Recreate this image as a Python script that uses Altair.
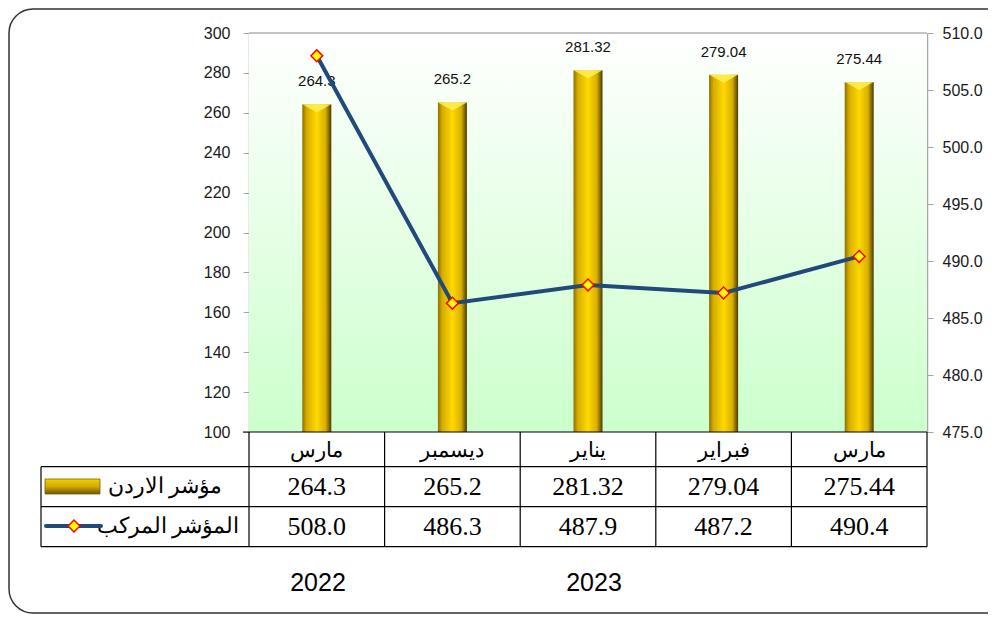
import altair as alt
import pandas as pd

# ---- data ----
months = ["مارس", "ديسمبر", "يناير", "فبراير", "مارس"]
jordan = [264.3, 265.2, 281.32, 279.04, 275.44]
jordan_text = ["264.3", "265.2", "281.32", "279.04", "275.44"]
composite = [508.0, 486.3, 487.9, 487.2, 490.4]
composite_text = ["508.0", "486.3", "487.9", "487.2", "490.4"]
row_labels = ["مؤشر الاردن", "المؤشر المركب"]
years = ["2022", "2023"]
left_ticks = list(range(100, 301, 20))
right_ticks = [475, 480, 485, 490, 495, 500, 505, 510]

df = pd.DataFrame({
    "i": list(range(len(months))),
    "month": months,
    "jordan": jordan,
    "jordan_text": jordan_text,
    "composite": composite,
    "composite_text": composite_text,
})
one = pd.DataFrame({"k": [0]})

W, H = 678, 399
LINE_COLOR = "#21497a"
SERIF = "Times New Roman"
SANS = "Liberation Sans"

xband = alt.Scale(type="band", paddingInner=0, paddingOuter=0)
X = alt.X("i:O", scale=xband, axis=None)
yl_scale = alt.Scale(domain=[100, 300], nice=False, zero=False)
yr_scale = alt.Scale(domain=[475, 510], nice=False, zero=False)

gold = alt.LinearGradient(
    gradient="linear", x1=0, y1=0, x2=1, y2=0,
    stops=[
        alt.GradientStop(offset=0, color="#8c7000"),
        alt.GradientStop(offset=0.15, color="#d6ad00"),
        alt.GradientStop(offset=0.5, color="#ffd900"),
        alt.GradientStop(offset=0.8, color="#d9b000"),
        alt.GradientStop(offset=1, color="#4a3a00"),
    ],
)
gold_h = alt.LinearGradient(
    gradient="linear", x1=0, y1=0, x2=0, y2=1,
    stops=[
        alt.GradientStop(offset=0, color="#f0d000"),
        alt.GradientStop(offset=0.5, color="#d4aa00"),
        alt.GradientStop(offset=1, color="#6b5600"),
    ],
)
bg_grad = alt.LinearGradient(
    gradient="linear", x1=0, y1=0, x2=0, y2=1,
    stops=[
        alt.GradientStop(offset=0, color="#ffffff"),
        alt.GradientStop(offset=1, color="#ccffcc"),
    ],
)

base = alt.Chart(df)
single = alt.Chart(one)

frame = single.mark_rect(filled=False, stroke="#333333", strokeWidth=1.5, cornerRadius=24).encode(
    x=alt.value(-240), x2=alt.value(775), y=alt.value(-24), y2=alt.value(580)
)
bg = single.mark_rect(color=bg_grad).encode(
    x=alt.value(0), x2=alt.value(W), y=alt.value(0), y2=alt.value(H)
)
top_border = single.mark_rule(color="#b0b0b0", strokeWidth=1.5).encode(
    x=alt.value(0), x2=alt.value(W), y=alt.value(0)
)

bars = base.mark_bar(size=29, color=gold).encode(
    x=X,
    y=alt.Y("jordan:Q", scale=yl_scale, title=None,
            axis=alt.Axis(orient="left", values=left_ticks, labelPadding=13)),
    y2=alt.datum(100),
)
caps = base.mark_point(shape="M-1,0L1,0L0,0.55Z", filled=True, fill="#ffee55", opacity=0.85,
                       size=841, strokeWidth=0).encode(
    x=X,
    y=alt.Y("jordan:Q", scale=yl_scale, axis=None),
)
bar_labels = base.mark_text(dy=-23, fontSize=15, font=SANS, color="#111111").encode(
    x=X,
    y=alt.Y("jordan:Q", scale=yl_scale, axis=None),
    text="jordan_text:N",
)
line = base.mark_line(color=LINE_COLOR, strokeWidth=4).encode(
    x=X,
    y=alt.Y("composite:Q", scale=yr_scale, title=None,
            axis=alt.Axis(orient="right", values=right_ticks, format=".1f", labelPadding=9)),
)
points = base.mark_point(shape="diamond", filled=True, fill="#ffff00", stroke="#ff0000",
                         strokeWidth=1.5, size=140, opacity=1).encode(
    x=X,
    y=alt.Y("composite:Q", scale=yr_scale, axis=None),
)

# ---- table ----
rules = []
rules.append(single.mark_rule(color="#000000", strokeWidth=1.2).encode(
    x=alt.value(-6), x2=alt.value(W), y=alt.value(H)))
for yy in [433.7, 473.7, 513.7]:
    rules.append(single.mark_rule(color="#000000", strokeWidth=1.2).encode(
        x=alt.value(-208), x2=alt.value(W), y=alt.value(yy)))
rules.append(base.mark_rule(color="#000000", strokeWidth=1.2).encode(
    x=alt.X("i:O", scale=xband, axis=None, bandPosition=0),
    y=alt.value(H), y2=alt.value(513.7)))
rules.append(single.mark_rule(color="#000000", strokeWidth=1.2).encode(
    x=alt.value(W), y=alt.value(H), y2=alt.value(513.7)))
rules.append(single.mark_rule(color="#000000", strokeWidth=1.2).encode(
    x=alt.value(-208), y=alt.value(433.7), y2=alt.value(513.7)))

hdr = base.mark_text(font=SERIF, fontSize=21, color="#000000").encode(
    x=X, y=alt.value(418), text="month:N")
row1 = base.mark_text(font=SERIF, fontSize=26, color="#000000").encode(
    x=X, y=alt.value(454), text="jordan_text:N")
row2 = base.mark_text(font=SERIF, fontSize=26, color="#000000").encode(
    x=X, y=alt.value(494), text="composite_text:N")

lab_df = pd.DataFrame({"label": row_labels})
lab1 = alt.Chart(lab_df.iloc[[0]]).mark_text(font=SERIF, fontSize=22, align="right",
                                              color="#000000").encode(
    x=alt.value(-27), y=alt.value(453), text="label:N")
lab2 = alt.Chart(lab_df.iloc[[1]]).mark_text(font=SERIF, fontSize=22, align="right",
                                              color="#000000").encode(
    x=alt.value(-10), y=alt.value(493), text="label:N")

sym_bar = single.mark_rect(color=gold_h, stroke="#7a6300", strokeWidth=0.8).encode(
    x=alt.value(-204), x2=alt.value(-149), y=alt.value(446), y2=alt.value(461))
sym_line = single.mark_rule(color=LINE_COLOR, strokeWidth=4, strokeCap="round").encode(
    x=alt.value(-203), x2=alt.value(-148), y=alt.value(493))
sym_pt = single.mark_point(shape="diamond", filled=True, fill="#ffff00", stroke="#ff0000",
                           strokeWidth=1.5, size=140, opacity=1).encode(
    x=alt.value(-175), y=alt.value(493))

yr_df = pd.DataFrame({"year": years})
yr1 = alt.Chart(yr_df.iloc[[0]]).mark_text(font=SANS, fontSize=25, color="#000000").encode(
    x=alt.value(69), y=alt.value(550), text="year:N")
yr2 = alt.Chart(yr_df.iloc[[1]]).mark_text(font=SANS, fontSize=25, color="#000000").encode(
    x=alt.value(345), y=alt.value(550), text="year:N")

chart = alt.layer(
    frame, bg, top_border, bars, caps, bar_labels, line, points,
    *rules, hdr, row1, row2, lab1, lab2, sym_bar, sym_line, sym_pt, yr1, yr2
).resolve_scale(y="independent").properties(
    width=W, height=H,
    autosize=alt.AutoSizeParams(type="none"),
    padding={"left": 241, "top": 25, "right": 61, "bottom": 182},
).configure_view(stroke=None).configure_axis(
    domainColor="#a6a6a6", tickColor="#a6a6a6", tickSize=6, grid=False,
    labelFont=SANS, labelFontSize=16, labelColor="#1a1a1a",
    domainWidth=1.5,
)

chart.save("out.html", embed_options={"renderer": "svg", "actions": False})
